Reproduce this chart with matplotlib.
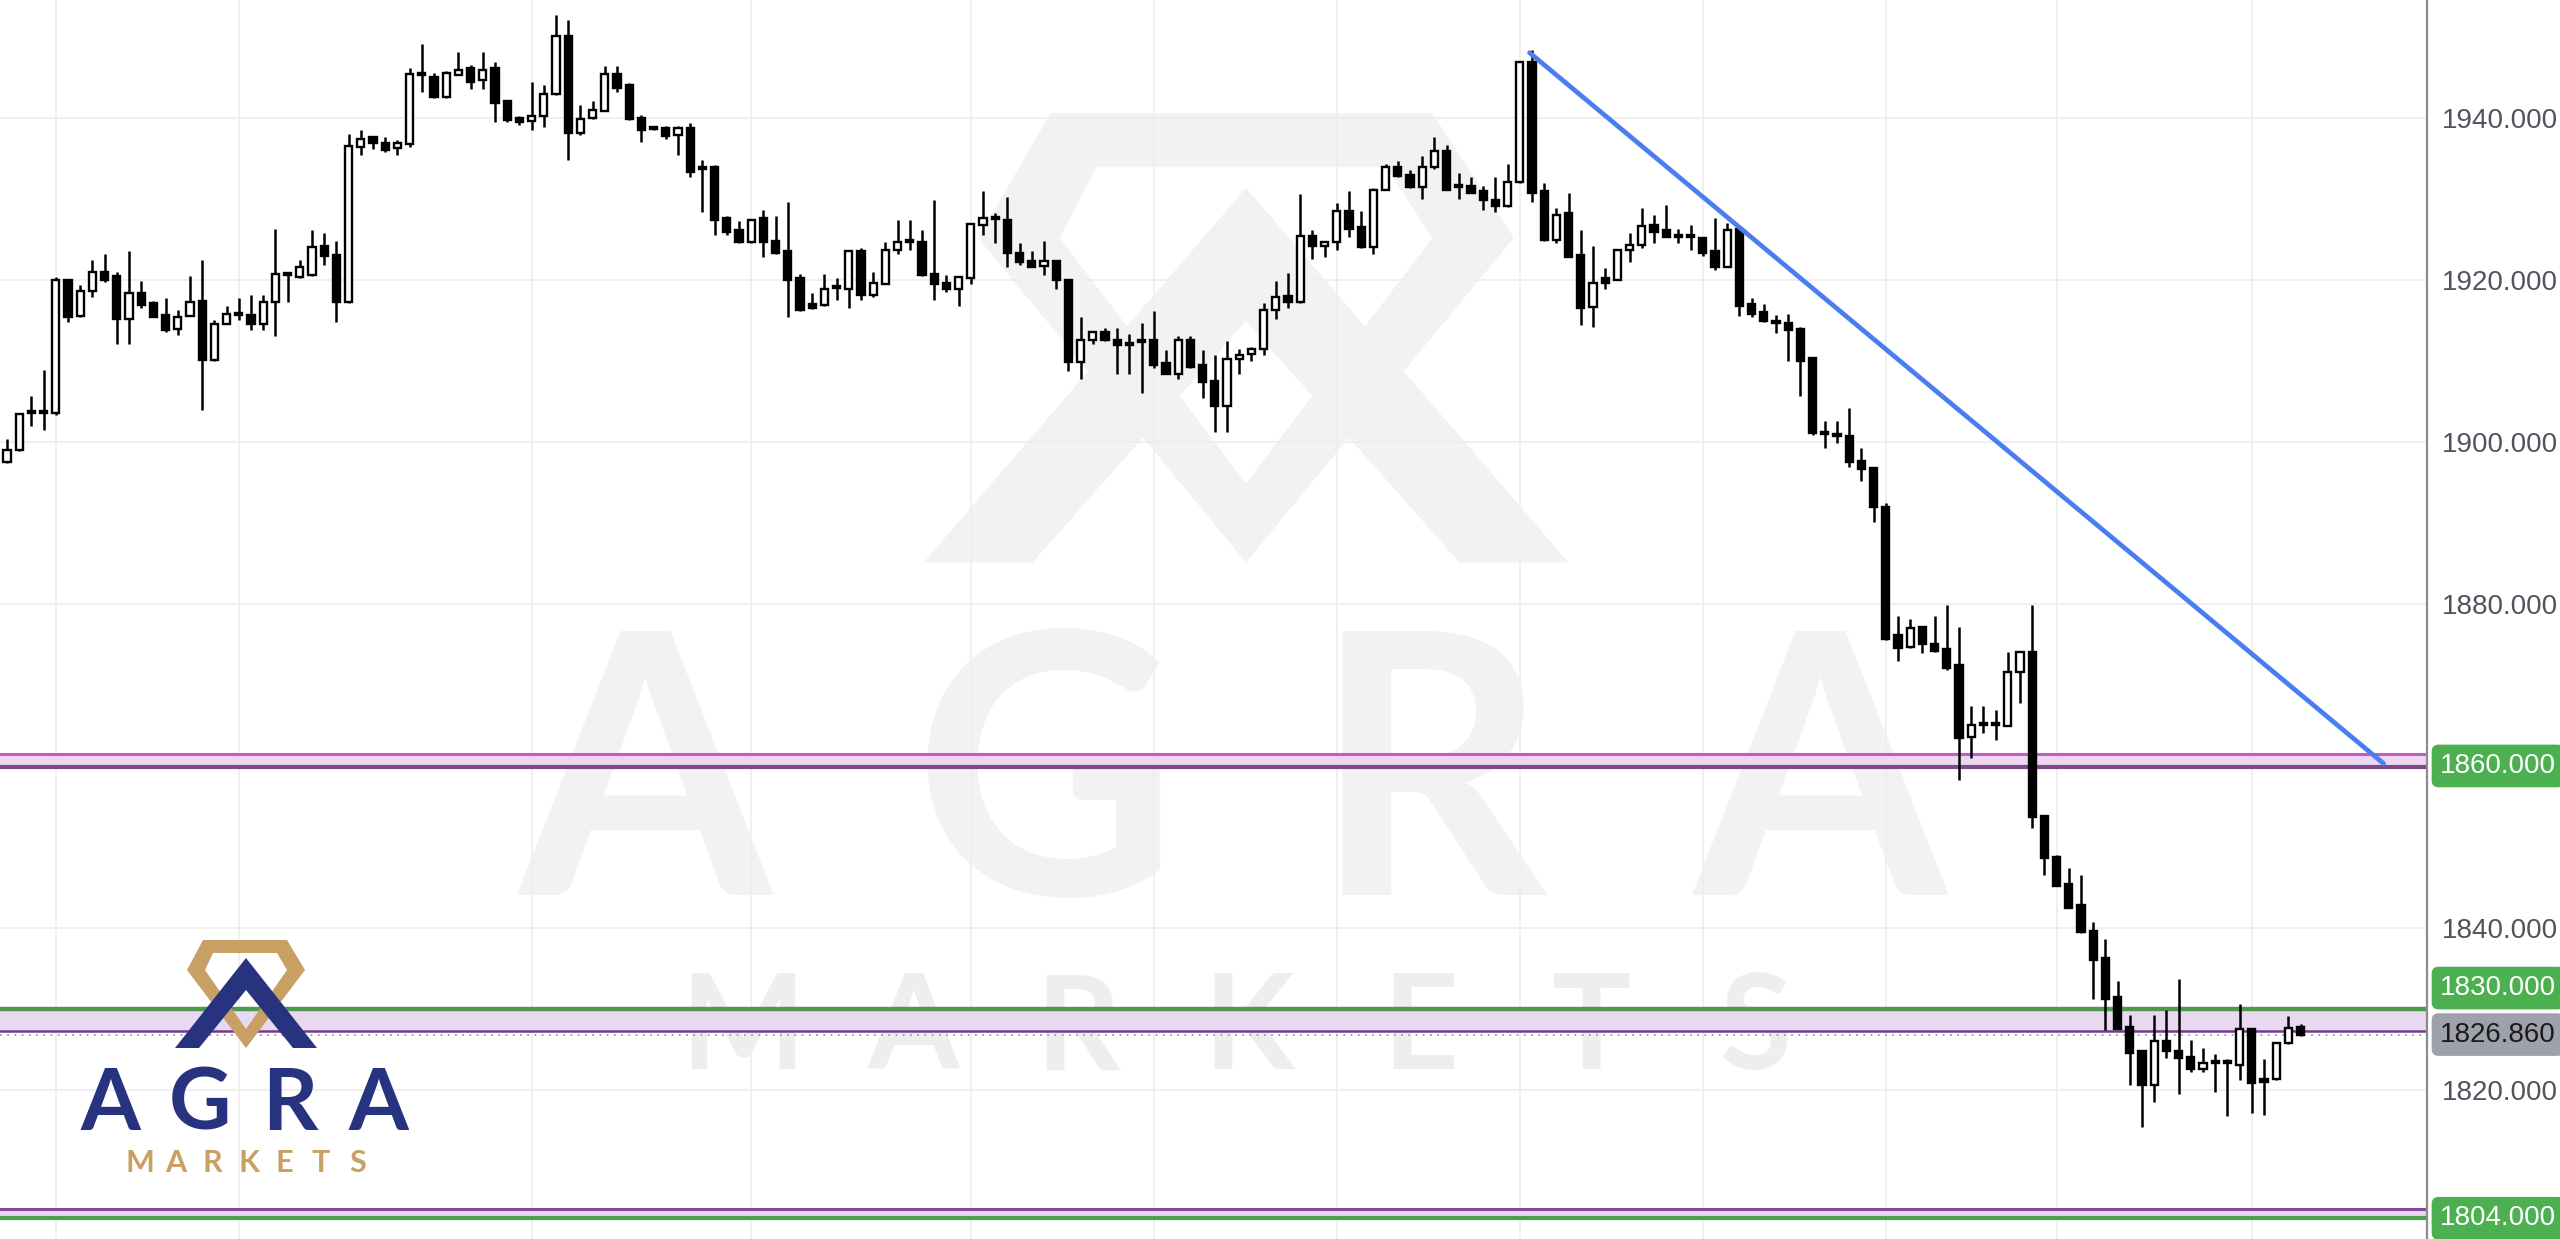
import matplotlib.pyplot as plt
from matplotlib.patches import PathPatch, Polygon
from matplotlib.path import Path
import numpy as np

# ---- OHLC, one entry per candle (oldest first) ----
opens = [1897.5, 1899.0, 1903.6, 1903.7, 1903.6, 1920.0, 1915.5, 1918.6, 1921.0, 1920.4,
         1915.1, 1918.4, 1917.1, 1915.6, 1913.9, 1915.5, 1917.4, 1910.1, 1914.5, 1915.8,
         1915.6, 1914.5, 1917.3, 1920.6, 1920.3, 1920.6, 1924.1, 1923.0, 1917.2, 1936.4,
         1937.6, 1936.9, 1936.2, 1936.7, 1945.3, 1945.0, 1942.5, 1945.3, 1946.1, 1944.6,
         1946.1, 1942.0, 1940.0, 1939.6, 1940.2, 1942.9, 1950.1, 1938.1, 1939.9, 1940.8,
         1945.4, 1944.0, 1940.0, 1938.7, 1938.7, 1937.8, 1938.7, 1933.7, 1933.9, 1927.6,
         1926.1, 1924.6, 1927.6, 1924.8, 1923.5, 1920.2, 1917.0, 1916.9, 1919.0, 1918.9,
         1923.5, 1918.1, 1919.5, 1923.6, 1924.6, 1924.7, 1920.7, 1919.6, 1918.9, 1920.2,
         1926.7, 1927.6, 1927.4, 1923.3, 1922.3, 1921.7, 1922.3, 1920.0, 1909.9, 1912.5,
         1913.6, 1912.5, 1912.2, 1912.3, 1912.6, 1909.7, 1908.4, 1912.6, 1909.5, 1907.5,
         1904.4, 1910.2, 1910.8, 1911.4, 1916.2, 1918.0, 1917.2, 1925.4, 1924.2, 1924.7,
         1928.5, 1926.5, 1924.0, 1931.1, 1933.9, 1932.9, 1931.4, 1933.9, 1935.9, 1931.5,
         1931.5, 1930.9, 1929.8, 1929.1, 1932.1, 1946.8, 1930.9, 1924.9, 1928.2, 1923.0,
         1916.6, 1920.2, 1920.0, 1923.6, 1924.3, 1926.7, 1926.1, 1925.3, 1925.3, 1925.1,
         1923.5, 1921.6, 1926.2, 1917.0, 1916.0, 1914.8, 1914.7, 1913.9, 1910.3, 1901.2,
         1900.8, 1900.7, 1897.6, 1896.7, 1892.0, 1876.1, 1874.7, 1877.1, 1875.1, 1874.4,
         1872.4, 1863.6, 1865.1, 1865.1, 1864.9, 1871.6, 1874.0, 1853.8, 1848.8, 1845.4,
         1842.8, 1839.7, 1836.3, 1831.5, 1827.8, 1824.8, 1820.7, 1826.1, 1824.8, 1824.1,
         1822.6, 1823.5, 1823.4, 1823.1, 1827.6, 1821.4, 1821.4, 1825.8, 1827.8]
highs = [1900.4, 1903.6, 1905.6, 1908.9, 1920.3, 1920.1, 1919.3, 1922.4, 1923.2, 1921.0,
         1923.5, 1919.8, 1917.4, 1917.7, 1916.3, 1920.5, 1922.4, 1915.0, 1916.7, 1917.7,
         1918.1, 1918.1, 1926.2, 1921.0, 1922.4, 1926.1, 1925.8, 1924.8, 1938.0, 1938.4,
         1937.7, 1937.6, 1937.2, 1946.1, 1949.1, 1945.5, 1945.7, 1948.1, 1946.5, 1948.1,
         1946.8, 1942.2, 1940.2, 1944.4, 1944.0, 1952.6, 1952.0, 1941.6, 1942.0, 1946.4,
         1946.4, 1944.3, 1940.3, 1938.9, 1939.0, 1938.9, 1939.3, 1934.8, 1934.1, 1927.8,
         1927.2, 1927.5, 1928.6, 1927.9, 1929.6, 1920.7, 1918.4, 1920.7, 1920.2, 1923.7,
         1923.9, 1921.0, 1924.7, 1927.4, 1927.4, 1926.1, 1929.8, 1920.6, 1920.3, 1926.9,
         1930.9, 1928.2, 1930.2, 1924.5, 1923.5, 1924.8, 1922.4, 1920.0, 1915.4, 1913.6,
         1914.0, 1914.0, 1913.3, 1914.7, 1916.1, 1911.3, 1913.0, 1913.0, 1911.3, 1910.7,
         1912.4, 1911.4, 1911.7, 1917.1, 1919.8, 1920.8, 1930.6, 1926.1, 1924.7, 1929.5,
         1930.9, 1928.5, 1931.3, 1934.3, 1934.6, 1933.5, 1935.2, 1937.6, 1936.6, 1933.1,
         1932.7, 1931.5, 1932.7, 1934.3, 1946.9, 1948.3, 1931.9, 1928.8, 1930.7, 1926.1,
         1924.1, 1921.4, 1923.8, 1925.8, 1928.8, 1928.0, 1929.2, 1926.3, 1926.7, 1925.3,
         1927.6, 1927.0, 1926.5, 1917.7, 1917.0, 1915.6, 1915.7, 1914.1, 1910.4, 1902.5,
         1902.5, 1904.2, 1899.2, 1896.8, 1892.4, 1878.5, 1878.1, 1877.2, 1878.5, 1879.8,
         1877.1, 1867.4, 1867.4, 1866.9, 1874.1, 1874.1, 1879.8, 1853.8, 1849.0, 1847.4,
         1846.5, 1840.8, 1838.6, 1833.5, 1829.3, 1824.8, 1829.3, 1829.9, 1833.7, 1826.2,
         1825.2, 1824.5, 1823.8, 1830.6, 1827.6, 1823.8, 1825.8, 1829.2, 1828.2]
lows = [1897.4, 1898.9, 1901.9, 1901.5, 1903.3, 1914.8, 1915.4, 1917.8, 1919.7, 1912.1,
        1912.1, 1916.5, 1915.4, 1913.6, 1913.2, 1915.5, 1903.9, 1910.0, 1914.5, 1915.0,
        1913.8, 1913.8, 1913.1, 1917.2, 1920.2, 1920.5, 1921.8, 1914.8, 1917.1, 1935.4,
        1936.1, 1935.7, 1935.4, 1936.4, 1943.2, 1942.4, 1942.4, 1945.2, 1943.5, 1943.5,
        1939.5, 1939.5, 1939.1, 1938.5, 1938.8, 1942.8, 1934.8, 1937.8, 1939.8, 1940.8,
        1943.2, 1939.7, 1937.0, 1938.4, 1937.4, 1935.4, 1932.7, 1928.3, 1925.5, 1925.5,
        1924.5, 1924.5, 1922.8, 1923.2, 1915.4, 1916.1, 1916.4, 1916.8, 1917.5, 1916.5,
        1917.5, 1917.9, 1919.5, 1923.2, 1923.6, 1920.5, 1917.5, 1918.5, 1916.8, 1919.5,
        1925.5, 1924.5, 1921.5, 1921.8, 1921.5, 1920.6, 1918.8, 1908.7, 1907.7, 1912.1,
        1912.4, 1908.4, 1908.4, 1906.0, 1909.1, 1908.4, 1907.7, 1909.1, 1905.4, 1901.2,
        1901.2, 1908.4, 1910.0, 1910.7, 1915.1, 1916.5, 1917.1, 1922.5, 1922.8, 1923.6,
        1925.3, 1923.9, 1923.2, 1931.0, 1932.7, 1931.3, 1930.0, 1933.7, 1931.0, 1930.0,
        1930.7, 1928.6, 1928.3, 1929.0, 1931.9, 1929.6, 1924.8, 1924.5, 1922.8, 1914.4,
        1914.2, 1918.9, 1919.9, 1922.2, 1923.9, 1924.5, 1925.3, 1924.5, 1923.7, 1922.9,
        1921.2, 1921.5, 1915.5, 1915.4, 1914.8, 1913.4, 1910.0, 1905.6, 1900.8, 1899.2,
        1899.9, 1896.9, 1895.2, 1890.1, 1875.5, 1873.0, 1874.6, 1873.9, 1874.1, 1871.9,
        1858.3, 1861.0, 1864.1, 1863.2, 1864.9, 1867.8, 1852.4, 1846.5, 1845.2, 1842.5,
        1839.4, 1831.3, 1827.4, 1827.5, 1820.6, 1815.5, 1818.5, 1824.0, 1819.5, 1822.3,
        1822.3, 1819.8, 1816.8, 1821.2, 1817.2, 1816.9, 1821.3, 1825.7, 1826.7]
closes = [1899.0, 1903.4, 1903.7, 1903.6, 1920.0, 1915.4, 1918.6, 1921.0, 1920.0, 1915.1,
          1918.4, 1916.9, 1915.4, 1913.8, 1915.4, 1917.3, 1910.1, 1914.5, 1915.8, 1915.6,
          1914.5, 1917.3, 1920.7, 1920.7, 1921.6, 1924.0, 1922.9, 1917.2, 1936.5, 1937.4,
          1936.8, 1936.0, 1936.8, 1945.4, 1945.2, 1942.5, 1945.5, 1945.9, 1944.4, 1945.9,
          1941.8, 1939.7, 1939.4, 1940.2, 1942.9, 1950.1, 1938.1, 1939.8, 1940.9, 1945.4,
          1943.7, 1939.8, 1938.4, 1938.6, 1937.7, 1938.7, 1933.3, 1933.6, 1927.4, 1925.9,
          1924.6, 1927.4, 1924.6, 1923.3, 1919.9, 1916.3, 1916.5, 1918.9, 1919.1, 1923.5,
          1918.1, 1919.6, 1923.7, 1924.7, 1924.7, 1920.6, 1919.5, 1918.8, 1920.3, 1926.9,
          1927.6, 1927.5, 1923.3, 1922.2, 1921.6, 1922.3, 1920.0, 1909.8, 1912.5, 1913.6,
          1912.5, 1911.9, 1911.9, 1912.4, 1909.5, 1908.4, 1912.6, 1909.2, 1907.4, 1904.4,
          1910.2, 1910.7, 1911.4, 1916.2, 1917.9, 1917.2, 1925.4, 1924.1, 1924.6, 1928.5,
          1926.3, 1924.0, 1931.1, 1933.9, 1932.8, 1931.4, 1933.9, 1935.9, 1931.1, 1931.4,
          1930.7, 1929.8, 1929.1, 1932.1, 1946.8, 1930.7, 1924.9, 1928.0, 1922.8, 1916.5,
          1919.6, 1919.6, 1923.7, 1924.3, 1926.6, 1925.9, 1925.3, 1925.3, 1925.2, 1923.3,
          1921.5, 1926.1, 1916.8, 1915.7, 1914.9, 1914.7, 1913.8, 1910.0, 1901.1, 1901.0,
          1900.7, 1897.5, 1896.6, 1891.9, 1875.7, 1874.6, 1877.0, 1875.1, 1874.2, 1872.1,
          1863.4, 1865.0, 1865.1, 1865.0, 1871.6, 1874.0, 1853.7, 1848.6, 1845.2, 1842.5,
          1839.5, 1836.1, 1831.3, 1827.6, 1824.6, 1820.6, 1826.1, 1824.8, 1824.0, 1822.6,
          1823.3, 1823.4, 1823.3, 1827.5, 1820.9, 1821.0, 1825.8, 1827.7, 1826.86]

price_ticks = [1940, 1920, 1900, 1880, 1840, 1820]
time_grid = [4, 19, 43, 61, 79, 94, 109, 124, 139, 154, 168, 184]

# drawn levels: (lower, upper)
zone_1860 = (1859.9, 1861.5)
zone_1830 = (1827.3, 1830.0)
zone_1804 = (1804.2, 1805.4)
last_price = 1826.86
trend_x = [124.8, 194.8]
trend_y = [1948.0, 1860.3]

# ---- layout (pixels) ----
W, H = 2560, 1239
AX_RIGHT = 2427
plt.rcParams['font.family'] = ['Liberation Sans Narrow', 'Liberation Sans', 'DejaVu Sans']

fig = plt.figure(figsize=(W / 100, H / 100), dpi=100)
fig.patch.set_facecolor('white')

# logo shapes, relative to the chevron apex
diamond_outer = [(-43, -18), (41, -18), (59, 12), (0, 90), (-59, 12)]
diamond_inner = [(-33, -5), (31, -5), (41, 12), (0, 71), (-41, 12)]
chevron = [(-71, 90), (0, 0), (71, 90), (47, 90), (0, 32), (-47, 90)]


def ring_path(outer, inner, apex, sx, sy):
    pts = []
    codes = []
    for ring in (outer, inner[::-1]):
        ring = [(apex[0] + x * sx, apex[1] + y * sy) for x, y in ring]
        pts += ring + [ring[0]]
        codes += [Path.MOVETO] + [Path.LINETO] * (len(ring) - 1) + [Path.CLOSEPOLY]
    return Path(pts, codes)


def draw_logo(axis, apex, sx, sy, gold, navy):
    axis.add_patch(PathPatch(ring_path(diamond_outer, diamond_inner, apex, sx, sy),
                             facecolor=gold, edgecolor='none'))
    axis.add_patch(Polygon([(apex[0] + x * sx, apex[1] + y * sy) for x, y in chevron],
                           closed=True, facecolor=navy, edgecolor='none'))


# background layer in pixel coords (watermark)
bg = fig.add_axes([0, 0, 1, 1], zorder=0)
bg.set_xlim(0, W)
bg.set_ylim(H, 0)
bg.axis('off')

WM = '#f2f2f2'
draw_logo(bg, (1246, 188), 4.54, 4.16, WM, WM)
for ch, cx in zip('AGRA', [645, 1045, 1430, 1820]):
    bg.text(cx, 895, ch, ha='center', va='baseline', fontsize=262, color=WM,
            family='Lato', fontweight='bold')
for ch, cx in zip('MARKETS', [743, 914, 1078, 1249, 1420, 1592, 1755]):
    bg.text(cx, 1069, ch, ha='center', va='baseline', fontsize=95, color='#eeeeee',
            family='Lato', fontweight='bold')

# ---- main chart ----
ax = fig.add_axes([0, 0, AX_RIGHT / W, 1], zorder=1)
ax.patch.set_alpha(0)
ax.set_xlim(-0.574, 198.36)
ax.set_ylim(1801.64, 1954.5)

for v in price_ticks:
    ax.axhline(v, color='#ececec', lw=1.2, zorder=0.5)
for t in time_grid:
    ax.axvline(t, color='#eeeeee', lw=1.2, zorder=0.5)

# horizontal zones
ax.axhspan(*zone_1860, color='#eed6f3', lw=0, zorder=1)
ax.axhline(zone_1860[1], color='#c658c9', lw=2.2, zorder=1.2)
ax.axhline(zone_1860[0], color='#7a4b88', lw=3.0, zorder=1.2)

ax.axhspan(*zone_1830, color='#e9d8f1', lw=0, zorder=1)
ax.axhline(zone_1830[1], color='#4e9b50', lw=3.2, zorder=1.2)
ax.axhline(zone_1830[0], color='#6c3e86', lw=1.8, zorder=1.2)

ax.axhspan(*zone_1804, color='#efd6f2', lw=0, zorder=1)
ax.axhline(zone_1804[1], color='#86479a', lw=2.2, zorder=1.2)
ax.axhline(zone_1804[0], color='#4aa04c', lw=3.0, zorder=1.2)

ax.axhline(last_price, color='#9a9ca5', lw=1.3, ls=(0, (1, 3)), zorder=1.3)

# candles
o = np.array(opens)
c = np.array(closes)
idx = np.arange(len(o))
up = c >= o
ax.vlines(idx, lows, highs, color='black', lw=1.8, zorder=3)
ax.bar(idx, np.maximum(np.abs(c - o), 0.25), bottom=np.minimum(o, c), width=0.58,
       color=np.where(up, 'white', 'black'), edgecolor='black', linewidth=1.7, zorder=4)

# trend line
ax.plot(trend_x, trend_y, color='#4a7ef0', lw=3.4, solid_capstyle='round', zorder=5)

# price axis
ax.yaxis.tick_right()
ax.set_yticks(price_ticks)
ax.set_yticklabels([f'{v:.3f}' for v in price_ticks])
ax.tick_params(axis='y', length=0, pad=11, labelsize=20, labelcolor='#51545c')
ax.set_xticks([])
for side in ['left', 'top', 'bottom']:
    ax.spines[side].set_visible(False)
ax.spines['right'].set_color('#8c8c8c')
ax.spines['right'].set_linewidth(1.6)

ytr = ax.get_yaxis_transform()


def price_tag(y, text, fc, tc):
    ax.text(1 + 13 / AX_RIGHT, y, text, transform=ytr, ha='left', va='center', fontsize=20,
            color=tc, clip_on=False, zorder=10,
            bbox=dict(boxstyle='round,pad=0.3,rounding_size=0.25', fc=fc, ec='none'))


TAG_GREEN = '#4caf50'
price_tag(1860.0, '1860.000', TAG_GREEN, 'white')
price_tag(1830.0 + 2.6, '1830.000', TAG_GREEN, 'white')   # nudged up, clears last-price tag
price_tag(last_price, f'{last_price:.3f}', '#9fa1aa', '#1a1a1a')
price_tag(1804.2, '1804.000', TAG_GREEN, 'white')

# ---- logo layer (bottom-left) ----
top = fig.add_axes([0, 0, 1, 1], zorder=3)
top.set_xlim(0, W)
top.set_ylim(H, 0)
top.axis('off')
top.patch.set_alpha(0)

draw_logo(top, (246, 958), 1.0, 1.0, '#c9a064', '#27337f')
for ch, cx in zip('AGRA', [110, 200, 290, 378]):
    top.text(cx, 1130, ch, ha='center', va='baseline', fontsize=62, color='#27337f',
             family='Lato', fontweight='bold')
for k, ch in enumerate('MARKETS'):
    top.text(140 + 36.2 * k, 1172, ch, ha='center', va='baseline', fontsize=22,
             color='#c9a064', family='Lato', fontweight='bold')

fig.savefig('out.png', dpi=100, facecolor='white')
